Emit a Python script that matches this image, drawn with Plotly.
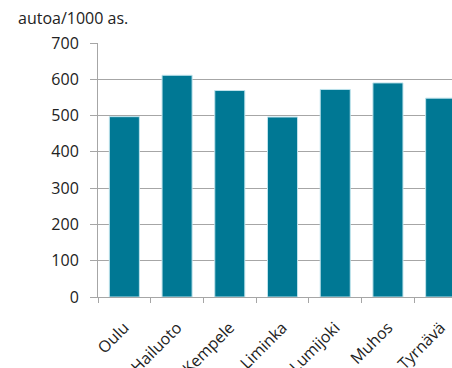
import plotly.graph_objects as go

# Cars per 1000 inhabitants by municipality
municipalities = ["Oulu", "Hailuoto", "Kempele", "Liminka", "Lumijoki", "Muhos", "Tyrnävä"]
cars_per_1000 = [497, 611, 569, 496, 572, 590, 548]
y_ticks = [0, 100, 200, 300, 400, 500, 600, 700]

bar_color = "#007894"
grid_color = "#a6a6a6"
font_family = "Segoe UI, Open Sans, sans-serif"

fig = go.Figure(
    go.Bar(
        x=municipalities,
        y=cars_per_1000,
        marker=dict(color=bar_color, line=dict(color="#bfe3ec", width=1)),
        width=0.57,
    )
)

fig.update_layout(
    width=452,
    height=368,
    margin=dict(l=98, r=0, t=43, b=71),
    plot_bgcolor="white",
    paper_bgcolor="white",
    showlegend=False,
    font=dict(family=font_family, size=15, color="#222222"),
    annotations=[
        dict(
            text="autoa/1000 as.",
            xref="paper", yref="paper",
            x=(16 - 98) / 354, y=1.0,
            xanchor="left", yanchor="bottom",
            yshift=12,
            showarrow=False,
            font=dict(family=font_family, size=16, color="#222222"),
        )
    ],
)

fig.update_xaxes(
    range=[-0.5, 6.215],
    automargin=False,
    tickangle=-45,
    ticks="outside",
    tickson="boundaries",
    ticklen=5,
    tickcolor=grid_color,
    showline=True,
    linecolor=grid_color,
    linewidth=1,
    showgrid=False,
    ticklabelstandoff=14,
    tickfont=dict(family=font_family, size=16),
)

fig.update_yaxes(
    range=[0, 700],
    automargin=False,
    tickvals=y_ticks,
    ticks="outside",
    ticklen=7,
    tickcolor=grid_color,
    showline=True,
    linecolor=grid_color,
    linewidth=1,
    showgrid=True,
    gridcolor=grid_color,
    gridwidth=1,
    zeroline=False,
    ticklabelstandoff=8,
    tickfont=dict(family=font_family, size=16),
)

fig.write_html("out.html")
